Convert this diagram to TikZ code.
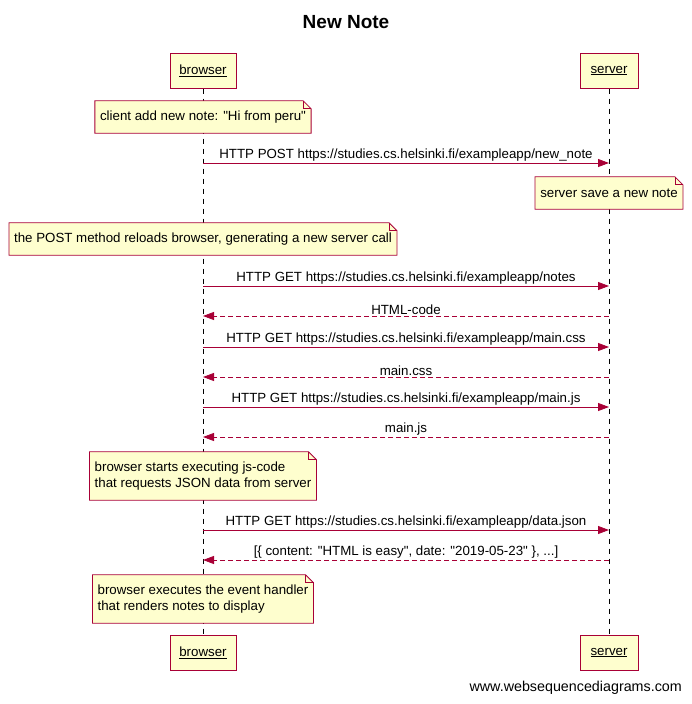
\documentclass[tikz,border=0pt]{standalone}
\usepackage{fontspec}
\setmainfont{Liberation Sans}
\usetikzlibrary{arrows.meta,positioning,backgrounds}
\definecolor{cLine}{HTML}{A80036}
\definecolor{cBox}{HTML}{FEFECE}
\tikzset{
  actor/.style={draw=cLine, fill=cBox, line width=1pt, minimum height=35pt,
     inner sep=0pt},
  memo/.style={align=left, inner xsep=5pt, inner ysep=0pt},
  lifeline/.style={dash pattern=on 5pt off 5pt, line width=0.8pt},
  call/.style={-{Triangle[length=11pt,width=8pt]}, draw=cLine, line width=0.8pt},
  reply/.style={call, dash pattern=on 5pt off 3pt},
  msg/.style={above, inner sep=1pt},
}
\newcommand{\qt}{\textquotedbl}
% filled outline with the folded corner, behind the note text
\newcommand{\dogear}[1]{%
  \begin{scope}[on background layer]
    \filldraw[draw=cLine, fill=cBox, line width=0.8pt] (#1.south west) -- (#1.north west)
      -- ([xshift=-8pt]#1.north east) -- ([yshift=-8pt]#1.north east) -- (#1.south east) -- cycle;
    \draw[cLine, line width=0.8pt] ([xshift=-8pt]#1.north east) |- ([yshift=-8pt]#1.north east);
  \end{scope}}

\begin{document}
\begin{tikzpicture}[x=1pt, y=-1pt, font=\fontsize{13.3}{15.5}\selectfont]
  \useasboundingbox (0,0) rectangle (692,704);
  \node[font=\bfseries\fontsize{19}{22}\selectfont] (title) at (346,22) {New Note};
  \node[actor, minimum width=66pt] (brw) at (203,70.5) {\underline{browser}};
  \node[actor, minimum width=58pt] (srv) at (609,70.5) {\underline{server}};
  \node[actor, minimum width=66pt] (brwEnd) at (203,652.5) {\underline{browser}};
  \node[actor, minimum width=58pt] (srvEnd) at (609,652.5) {\underline{server}};
  \begin{scope}[on background layer]
    \draw[lifeline] (brw) -- (brwEnd);
    \draw[lifeline] (srv) -- (srvEnd);
  \end{scope}

  % notes
  \node[memo, minimum height=32pt] (n1) at (brw |- 0,117) {client add new note: \qt Hi from peru\qt};
  \dogear{n1}
  \node[memo, minimum height=32pt] (n2) at (srv |- 0,193) {server save a new note};
  \dogear{n2}
  \node[memo, minimum height=32pt] (n3) at (brw |- 0,239) {the POST method reloads browser, generating a new server call};
  \dogear{n3}
  \node[memo, minimum height=48pt] (n4) at (brw |- 0,476) {browser starts executing js-code\\that requests JSON data from server};
  \dogear{n4}
  \node[memo, minimum height=48pt] (n5) at (brw |- 0,599) {browser executes the event handler\\that renders notes to display};
  \dogear{n5}

  % messages
  \coordinate (m1) at (0,163);
  \coordinate (m2) at (0,286);
  \coordinate (m3) at (0,316);
  \coordinate (m4) at (0,347);
  \coordinate (m5) at (0,377);
  \coordinate (m6) at (0,407);
  \coordinate (m7) at (0,437);
  \coordinate (m8) at (0,530);
  \coordinate (m9) at (0,560);
  \draw[call] (brw |- m1) -- node[msg] (l1) {HTTP POST https://studies.cs.helsinki.fi/exampleapp/new\_note} (srv |- m1);
  \draw[call] (brw |- m2) -- node[msg] (l2) {HTTP GET https://studies.cs.helsinki.fi/exampleapp/notes} (srv |- m2);
  \draw[reply] (srv |- m3) -- node[msg] (l3) {HTML-code} (brw |- m3);
  \draw[call] (brw |- m4) -- node[msg] (l4) {HTTP GET https://studies.cs.helsinki.fi/exampleapp/main.css} (srv |- m4);
  \draw[reply] (srv |- m5) -- node[msg] (l5) {main.css} (brw |- m5);
  \draw[call] (brw |- m6) -- node[msg] (l6) {HTTP GET https://studies.cs.helsinki.fi/exampleapp/main.js} (srv |- m6);
  \draw[reply] (srv |- m7) -- node[msg] (l7) {main.js} (brw |- m7);
  \draw[call] (brw |- m8) -- node[msg] (l8) {HTTP GET https://studies.cs.helsinki.fi/exampleapp/data.json} (srv |- m8);
  \draw[reply] (srv |- m9) -- node[msg] (l9) {[\{ content: \qt HTML is easy\qt, date: \qt 2019-05-23\qt\ \}, ...]} (brw |- m9);

  \node[anchor=east, inner sep=0pt, font=\fontsize{14.3}{16}\selectfont] (site) at (682,688) {www.websequencediagrams.com};
\end{tikzpicture}
\end{document}
